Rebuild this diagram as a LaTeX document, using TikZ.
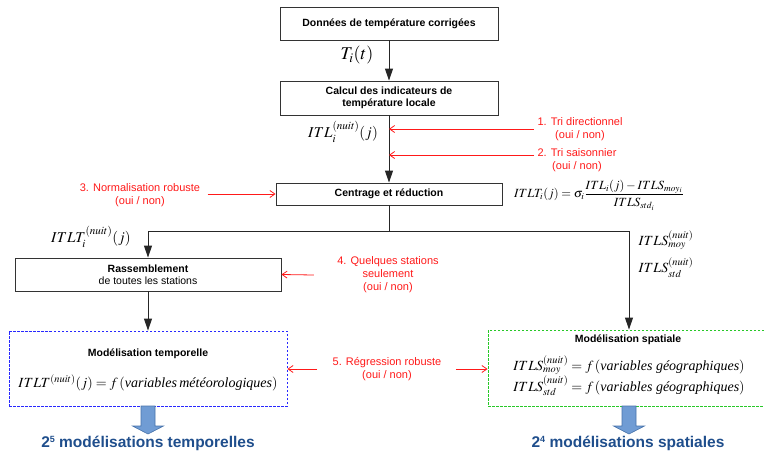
\documentclass[tikz,border=0pt]{standalone}
\usepackage{mathptmx}
\usepackage{amsmath}
\usepackage[no-math]{fontspec}
\setmainfont{Liberation Sans}
\newfontfamily\serifit{Liberation Serif}
\usetikzlibrary{arrows.meta}

\newcommand{\vtxt}[1]{\text{\serifit\itshape #1}}

\definecolor{optred}{RGB}{255,25,25}
\definecolor{bigblue}{RGB}{31,78,140}
\definecolor{arrowfill}{RGB}{112,156,212}
\definecolor{arrowline}{RGB}{70,114,170}
\definecolor{tempblue}{RGB}{40,40,255}
\definecolor{spatgreen}{RGB}{40,200,40}

\begin{document}
\begin{tikzpicture}[x=1pt,y=-1pt,
  box/.style={draw=black!80, line width=0.9pt, align=center, inner sep=0pt,
    font=\fontsize{10.5}{12.5}\selectfont\bfseries},
  modelbox/.style={line width=0.9pt, dash pattern=on 2.5pt off 1.5pt, inner sep=0pt},
  flow/.style={draw=black!85, line width=1pt, -{Triangle[length=12pt,width=8pt]}},
  opt/.style={text=optred, align=center, font=\fontsize{11}{13}\selectfont},
  optarrow/.style={draw=optred, line width=0.8pt, -{Straight Barb[length=5pt,width=7pt]}},
  eq/.style={font=\fontsize{14}{16}\selectfont},
  result/.style={text=bigblue, font=\fontsize{15.5}{17}\selectfont\bfseries},
  fatarrow/.style={fill=arrowfill, draw=arrowline, line width=0.6pt}
]

\useasboundingbox (0,0) rectangle (764,451);

% main boxes
\node[box, minimum width=218, minimum height=33] (donnees) at (389,23.5) {Données de température corrigées};
\node[box, minimum width=218, minimum height=34] (calcul) at (389,98) {Calcul des indicateurs de\\température locale};
\node[box, minimum width=226, minimum height=22] (centrage) at (389,194) {Centrage et réduction};
\node[box, minimum width=266, minimum height=33, font=\fontsize{10.5}{12.5}\selectfont] (rassemb) at (148,274.5) {\textbf{Rassemblement}\\de toutes les stations};

% model boxes
\node[modelbox, draw=tempblue, minimum width=278, minimum height=75] (temporel) at (148,368.5) {};
\node[modelbox, draw=spatgreen, minimum width=282, minimum height=76] (spatial) at (629,368) {};

\node[font=\fontsize{10.5}{12.5}\selectfont\bfseries] (temptitle) at (148,354) {Modélisation temporelle};
\node[eq] (tempeq) at (148,383) {$ITLT^{(nuit)}(j)=f\,(\vtxt{variables\,météorologiques})$};
\node[font=\fontsize{10.5}{12.5}\selectfont\bfseries] (spattitle) at (628,340) {Modélisation spatiale};
\node[eq] (spateqa) at (629,365) {$ITLS^{(nuit)}_{moy}=f\,(\vtxt{variables géographiques})$};
\node[eq] (spateqb) at (629,386) {$ITLS^{(nuit)}_{std}=f\,(\vtxt{variables géographiques})$};

% flow
\coordinate (split) at (389,231);
\draw[flow] (donnees) -- (calcul);
\draw[flow] (calcul) -- (centrage);
\draw[flow] (centrage.south) -- (split) -| (rassemb.north);
\draw[flow] (split) -| (spatial.north);
\draw[flow] (rassemb) -- (temporel);

% labels on the flow
\node[font=\fontsize{18}{20}\selectfont] (lblT) at (357,55) {$T_i(t)$};
\node[font=\fontsize{15}{17}\selectfont] (lblITL) at (343,132) {$ITL_i^{(nuit)}(j)$};
\node[font=\fontsize{15}{17}\selectfont] (lblITLT) at (91,237) {$ITLT_i^{(nuit)}(j)$};
\node[eq, align=left, font=\fontsize{14}{27}\selectfont] (lblITLS) at (666,254) {$ITLS^{(nuit)}_{moy}$\\$ITLS^{(nuit)}_{std}$};
\node[font=\fontsize{12.5}{14}\selectfont, inner sep=1pt] (eqcentr) at (599,195) {$\displaystyle ITLT_i(j)=\sigma_i\frac{ITL_i(j)-ITLS_{moy_i}}{ITLS_{std_i}}$};

% options in red
\node[opt] (tri1) at (580,129) {1. Tri directionnel\\(oui / non)};
\node[opt] (tri2) at (577,160) {2. Tri saisonnier\\(oui / non)};
\node[opt] (norm) at (140,195) {3. Normalisation robuste\\(oui / non)};
\node[opt] (quelq) at (388,275) {4. Quelques stations\\seulement\\(oui / non)};
\node[opt] (regr) at (387,369) {5. Régression robuste\\(oui / non)};

\draw[optarrow] (tri1.west) -- (tri1.west -| calcul.south);
\draw[optarrow] ([yshift=5pt]tri2.west) -- ([yshift=5pt]tri2.west -| calcul.south);
\draw[optarrow, shorten <=4pt] (norm.east |- centrage.west) -- (centrage.west);
\draw[optarrow] ([xshift=-20pt]quelq.west) -- (rassemb.east);
\draw[optarrow] ([xshift=-12pt]regr.west) -- (regr.west -| temporel.east);
\draw[optarrow] ([xshift=11pt]regr.east) -- (regr.east -| spatial.west);

% results
\foreach \fx in {148,629}{
  \draw[fatarrow] (\fx-7,406) -- (\fx+7,406) -- (\fx+7,426) -- (\fx+15.5,426)
    -- (\fx,434) -- (\fx-15.5,426) -- (\fx-7,426) -- cycle;
}
\node[result] (restemp) at (148,443) {2{\fontsize{9}{10}\selectfont\raisebox{5pt}{5}} modélisations temporelles};
\node[result] (resspat) at (628,443) {2{\fontsize{9}{10}\selectfont\raisebox{5pt}{4}} modélisations spatiales};

\end{tikzpicture}
\end{document}
